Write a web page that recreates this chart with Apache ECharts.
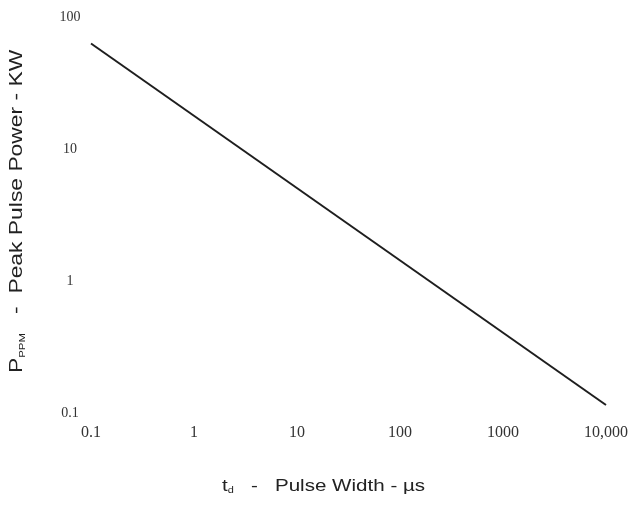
<!DOCTYPE html>
<html>
<head>
<meta charset="utf-8">
<script src="https://cdn.jsdelivr.net/npm/echarts@6/dist/echarts.min.js"></script>
<style>
html,body{margin:0;padding:0;background:#fff;}
#chart{width:644px;height:507px;}
</style>
</head>
<body>
<div id="chart"></div>
<script>
// Data (log-log straight line)
const pulseWidth = [0.1, 10000];          // µs
const peakPower = [63, 0.115];            // kW
const xTickValues = [0.1, 1, 10, 100, 1000, 10000];
const xTickLabels = ['0.1', '1', '10', '100', '1000', '10,000'];
const yTickValues = [0.1, 1, 10, 100];
const yTickLabels = ['0.1', '1', '10', '100'];

function labelFor(values, labels, v) {
  let best = 0, bd = Infinity;
  for (let i = 0; i < values.length; i++) {
    const d = Math.abs(Math.log10(v) - Math.log10(values[i]));
    if (d < bd) { bd = d; best = i; }
  }
  return bd < 0.01 ? labels[best] : '';
}

const seriesData = pulseWidth.map((x, i) => [x, peakPower[i]]);

const chart = echarts.init(document.getElementById('chart'), null, {renderer: 'canvas'});
chart.setOption({
  backgroundColor: '#ffffff',
  animation: false,
  grid: {left: 91, right: 38, top: 17, bottom: 94, containLabel: false, outerBoundsMode: 'none'},
  xAxis: {
    type: 'log',
    logBase: 10,
    min: 0.1,
    max: 10000,
    splitNumber: 5,
    axisLine: {show: false},
    axisTick: {show: false},
    splitLine: {show: false},
    axisLabel: {
      margin: 12,
      fontFamily: 'Liberation Serif',
      fontSize: 16,
      color: '#333',
      formatter: v => labelFor(xTickValues, xTickLabels, v)
    }
  },
  yAxis: {
    type: 'log',
    logBase: 10,
    min: 0.1,
    max: 100,
    splitNumber: 3,
    axisLine: {show: false},
    axisTick: {show: false},
    splitLine: {show: false},
    axisLabel: {
      margin: 21,
      align: 'center',
      fontFamily: 'Liberation Serif',
      fontSize: 14,
      color: '#333',
      formatter: v => labelFor(yTickValues, yTickLabels, v)
    }
  },
  graphic: [
    {
      type: 'text',
      x: 17,
      y: 373,
      rotation: Math.PI / 2,
      scaleX: 1.27,
      scaleY: 1,
      style: {
        text: '{i|P}{s|PPM}{i|   -  Peak Pulse Power - KW}',
        textAlign: 'left',
        textVerticalAlign: 'middle',
        fill: '#222',
        rich: {
          i: {fontFamily: 'Liberation Sans', fontSize: 18, fill: '#222'},
          s: {fontFamily: 'Liberation Sans', fontSize: 9, fill: '#222', verticalAlign: 'bottom', padding: [11, 0, 0, 0]}
        }
      }
    },
    {
      type: 'text',
      x: 222,
      y: 486,
      scaleX: 1.21,
      scaleY: 1,
      style: {
        text: '{i|t}{s|d}{i|   -   Pulse Width - µs}',
        textAlign: 'left',
        textVerticalAlign: 'middle',
        fill: '#222',
        rich: {
          i: {fontFamily: 'Liberation Sans', fontSize: 17, fill: '#222'},
          s: {fontFamily: 'Liberation Sans', fontSize: 9, fill: '#222', verticalAlign: 'bottom', padding: [10, 0, 0, 0]}
        }
      }
    }
  ],
  series: [{
    type: 'line',
    data: seriesData,
    symbol: 'none',
    lineStyle: {color: '#1e1e1e', width: 2},
    clip: false
  }]
});
</script>
</body>
</html>
